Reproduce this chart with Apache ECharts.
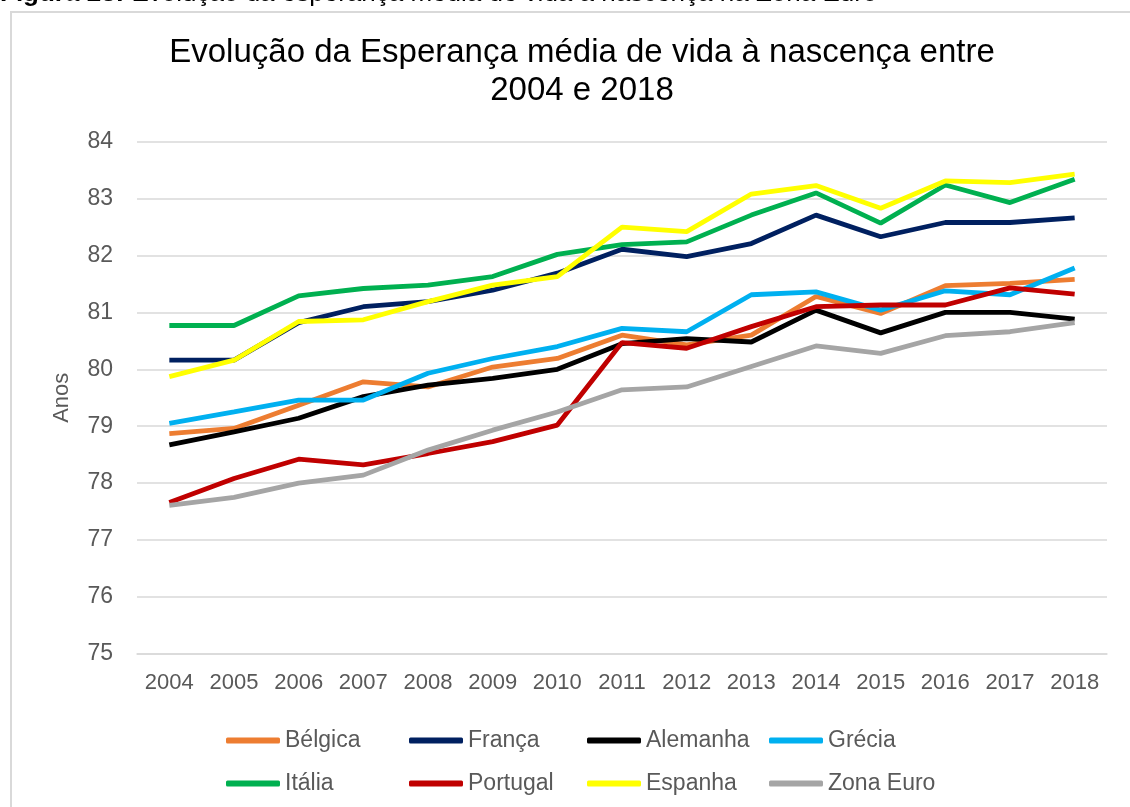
<!DOCTYPE html>
<html>
<head>
<meta charset="utf-8">
<script src="https://cdn.jsdelivr.net/npm/echarts@6/dist/echarts.min.js"></script>
<style>
  html, body { margin: 0; padding: 0; background: #fff; }
  #main { width: 1130px; height: 807px; }
</style>
</head>
<body>
<div id="main"></div>
<script>
  const anos = ['2004', '2005', '2006', '2007', '2008', '2009', '2010', '2011', '2012', '2013', '2014', '2015', '2016', '2017', '2018'];

  const belgica   = [78.87, 78.96, 79.37, 79.78, 79.69, 80.04, 80.19, 80.60, 80.43, 80.60, 81.28, 80.98, 81.47, 81.51, 81.58];
  const franca    = [80.16, 80.16, 80.82, 81.10, 81.19, 81.39, 81.69, 82.11, 81.98, 82.21, 82.71, 82.33, 82.58, 82.58, 82.66];
  const alemanha  = [78.67, 78.90, 79.14, 79.52, 79.72, 79.84, 80.00, 80.45, 80.54, 80.48, 81.04, 80.64, 81.00, 81.00, 80.88];
  const grecia    = [79.05, 79.25, 79.46, 79.46, 79.93, 80.19, 80.40, 80.72, 80.66, 81.31, 81.36, 81.04, 81.38, 81.31, 81.78];
  const italia    = [80.77, 80.77, 81.29, 81.42, 81.48, 81.63, 82.02, 82.19, 82.24, 82.71, 83.10, 82.57, 83.24, 82.93, 83.34];
  const portugal  = [77.66, 78.08, 78.42, 78.32, 78.52, 78.73, 79.02, 80.47, 80.37, 80.75, 81.10, 81.13, 81.13, 81.43, 81.32];
  const espanha   = [79.87, 80.16, 80.84, 80.87, 81.19, 81.48, 81.63, 82.50, 82.42, 83.08, 83.23, 82.83, 83.31, 83.28, 83.43];
  const zonaEuro  = [77.61, 77.75, 78.00, 78.14, 78.58, 78.93, 79.25, 79.64, 79.69, 80.05, 80.41, 80.28, 80.59, 80.66, 80.82];

  const nomes = ['Bélgica', 'França', 'Alemanha', 'Grécia', 'Itália', 'Portugal', 'Espanha', 'Zona Euro'];
  const cores = ['#ED7D31', '#002060', '#000000', '#00B0F0', '#00B050', '#C00000', '#FFFF00', '#A5A5A5'];
  const valores = [belgica, franca, alemanha, grecia, italia, portugal, espanha, zonaEuro];

  const chart = echarts.init(document.getElementById('main'));

  // legenda em colunas, como no Excel
  const colunas = [[0, 4], [1, 5], [2, 6], [3, 7]];
  const colunasX = [221, 404, 582, 764];
  const legendas = colunas.map((c, i) => ({
    orient: 'vertical',
    left: colunasX[i],
    top: 724,
    itemGap: 20,
    itemWidth: 54,
    itemHeight: 6,
    icon: 'roundRect',
    data: c.map(k => nomes[k]),
    textStyle: { color: '#595959', fontSize: 23, fontFamily: 'Liberation Sans' }
  }));

  const option = {
    animation: false,
    graphic: [
      {
        type: 'rect',
        shape: { x: 11, y: 12, width: 1300, height: 1000 },
        style: { fill: 'none', stroke: '#D9D9D9', lineWidth: 2 }
      },
      {
        type: 'text',
        left: 0,
        top: -19,
        style: {
          text: '{b|Figura 23:} Evolução da esperança média de vida à nascença na Zona Euro',
          fontSize: 26,
          fontFamily: 'Liberation Sans',
          fill: '#000',
          rich: { b: { fontWeight: 'bold', fontSize: 26, fontFamily: 'Liberation Sans' } }
        }
      }
    ],
    title: {
      text: 'Evolução da Esperança média de vida à nascença entre\n2004 e 2018',
      left: 577,
      top: 29,
      textAlign: 'center',
      textStyle: {
        color: '#000',
        fontSize: 33,
        fontWeight: 'normal',
        fontFamily: 'Liberation Sans',
        lineHeight: 38
      }
    },
    legend: legendas,
    grid: { left: 137, right: 23, top: 141.7, bottom: 153.2 },
    xAxis: {
      type: 'category',
      data: anos,
      axisLine: { lineStyle: { color: '#D9D9D9', width: 1.5 } },
      axisTick: { show: false },
      axisLabel: { color: '#595959', fontSize: 22, margin: 18, fontFamily: 'Liberation Sans' }
    },
    yAxis: {
      type: 'value',
      min: 75,
      max: 84,
      interval: 1,
      name: 'Anos',
      nameLocation: 'middle',
      nameGap: 64,
      nameTextStyle: { color: '#595959', fontSize: 22, fontFamily: 'Liberation Sans' },
      axisLine: { show: false },
      axisTick: { show: false },
      axisLabel: { color: '#595959', fontSize: 23, margin: 24, fontFamily: 'Liberation Sans' },
      splitLine: { lineStyle: { color: '#D9D9D9', width: 1.5 } }
    },
    series: nomes.map((n, i) => ({
      name: n,
      type: 'line',
      data: valores[i],
      symbol: 'none',
      color: cores[i],
      lineStyle: { color: cores[i], width: 4.8 }
    }))
  };

  chart.setOption(option);
</script>
</body>
</html>
